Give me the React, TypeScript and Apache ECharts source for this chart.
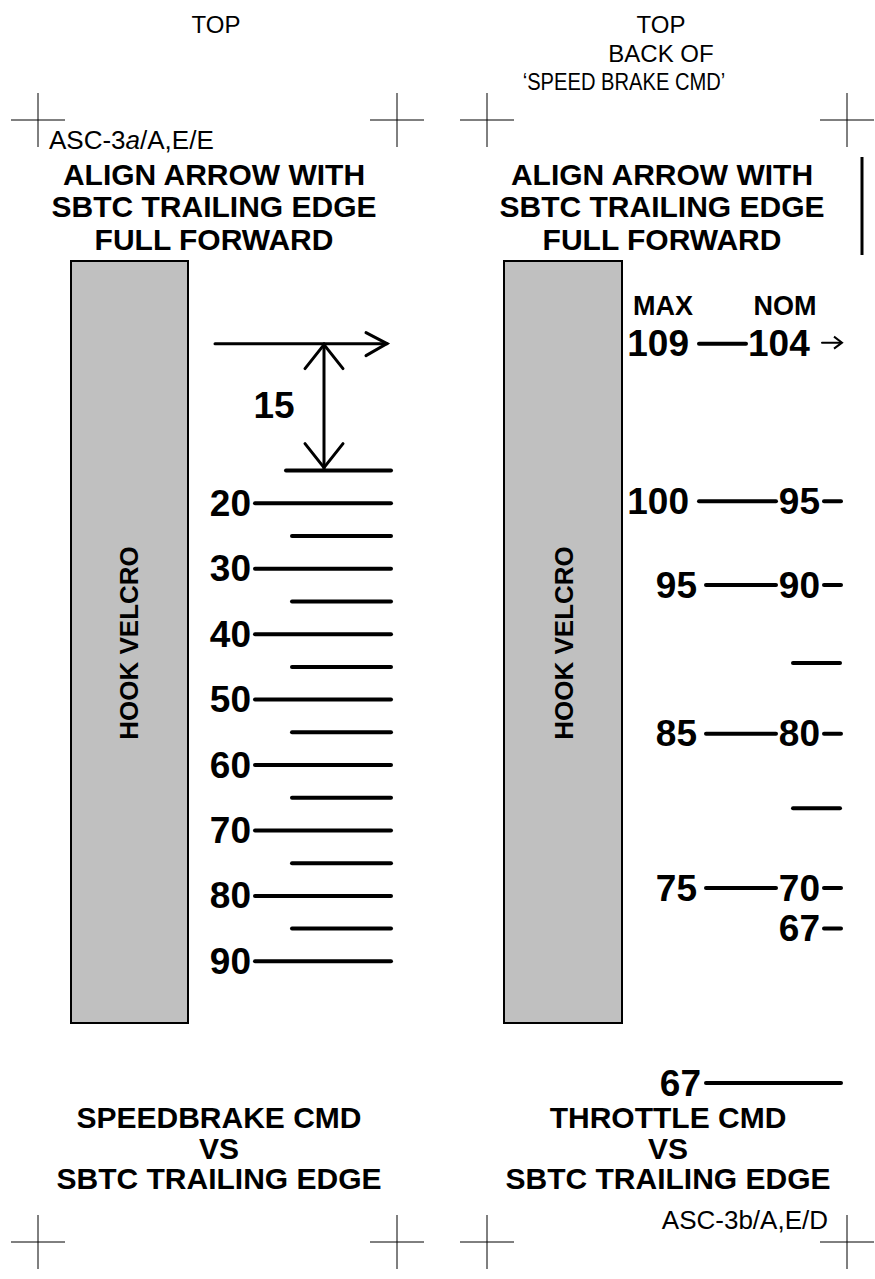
import React, { useEffect, useRef } from "react";
import * as echarts from "echarts";

// ---------- data ----------
// Speedbrake command scale (left card), read along the SBTC trailing edge
const sbMajorTicks = [20, 30, 40, 50, 60, 70, 80, 90];
const sbMinorTicks = [25, 35, 45, 55, 65, 75, 85];
const sbFullForwardLine = [15];
const alignArrowAt = [-4.4]; // speedbrake-scale reading of the alignment arrow
const alignOffsetLabel = "15";

// Throttle card: MAX / NOM throttle settings and where they fall on the SBTC scale
const throttleMax: (number | null)[] = [109, 100, 95, null, 85, null, 75, null];
const throttleNom: (number | null)[] = [104, 95, 90, null, 80, null, 70, 67];
const throttleAtSb = [-4.4, 19.7, 32.5, 44.4, 55.2, 66.6, 78.8, 85.0];
const throttleMinValue = [67];
const throttleMinAtSb = [108.6];

// ---------- styling ----------
const FF = '"Liberation Sans", Arial, Helvetica, sans-serif';
const BOLD37 = `bold 37px ${FF}`;
const BOLD30 = `bold 30px ${FF}`;
const REG = `24px ${FF}`;
const INK = "#000";

function seg(x1: number, y1: number, x2: number, y2: number, w = 4) {
  return {
    type: "line",
    shape: { x1, y1, x2, y2 },
    style: { stroke: INK, lineWidth: w, lineCap: "round" },
  };
}
function txt(x: number, y: number, text: string, align: string, font = BOLD37) {
  return {
    type: "text",
    style: { x, y, text, font, fill: INK, align, verticalAlign: "middle" },
  };
}

function crosshair(cx: number, cy: number) {
  return [
    { type: "line", shape: { x1: cx - 27, y1: cy, x2: cx + 27, y2: cy }, style: { stroke: INK, lineWidth: 1 } },
    { type: "line", shape: { x1: cx, y1: cy - 27, x2: cx, y2: cy + 27 }, style: { stroke: INK, lineWidth: 1 } },
  ];
}

function gtext(x: number, y: number, text: string, font: string, align = "center", extra: any = {}) {
  return { type: "text", x, y, ...extra, style: { text, font, fill: INK, align, verticalAlign: "middle" } };
}

export default function App() {
  const ref = useRef<HTMLDivElement>(null);
  useEffect(() => {
    if (!ref.current) return;
    const chart = echarts.init(ref.current, undefined, { renderer: "svg" });

    const yOf = (api: any, v: number) => api.coord([0, v])[1];

    const graphic: any[] = [
      // top captions
      gtext(216, 24, "TOP", REG),
      gtext(661, 24, "TOP", REG),
      gtext(661, 53, "BACK OF", REG),
      gtext(624, 82, "\u2018SPEED BRAKE CMD\u2019", REG, "center", { scaleX: 0.84 }),
      // crosshairs
      ...crosshair(38, 120), ...crosshair(397, 120), ...crosshair(487, 120), ...crosshair(847, 120),
      ...crosshair(38, 1242), ...crosshair(397, 1242), ...crosshair(487, 1242), ...crosshair(847, 1242),
      // document ids
      {
        type: "text", x: 49, y: 140,
        style: {
          text: "{n|ASC-3}{i|a}{n|/A,E/E}",
          verticalAlign: "middle", align: "left",
          rich: {
            n: { font: `26px ${FF}`, fill: INK },
            i: { font: `italic 26px ${FF}`, fill: INK },
          },
        },
      },
      gtext(828, 1220, "ASC-3b/A,E/D", `26px ${FF}`, "right"),
      // headings
      gtext(214, 174, "ALIGN ARROW WITH", BOLD30),
      gtext(214, 206, "SBTC TRAILING EDGE", BOLD30),
      gtext(214, 239, "FULL FORWARD", BOLD30),
      gtext(662, 174, "ALIGN ARROW WITH", BOLD30),
      gtext(662, 206, "SBTC TRAILING EDGE", BOLD30),
      gtext(662, 239, "FULL FORWARD", BOLD30),
      { type: "line", shape: { x1: 862, y1: 157, x2: 862, y2: 255 }, style: { stroke: INK, lineWidth: 3 } },
      // velcro strips
      { type: "rect", shape: { x: 71, y: 261, width: 117, height: 762 }, style: { fill: "#c0c0c0", stroke: INK, lineWidth: 2 } },
      { type: "rect", shape: { x: 504, y: 261, width: 118, height: 762 }, style: { fill: "#c0c0c0", stroke: INK, lineWidth: 2 } },
      { type: "text", x: 129, y: 643, rotation: Math.PI / 2, style: { text: "HOOK VELCRO", font: `bold 26px ${FF}`, fill: INK, align: "center", verticalAlign: "middle" } },
      { type: "text", x: 564, y: 643, rotation: Math.PI / 2, style: { text: "HOOK VELCRO", font: `bold 26px ${FF}`, fill: INK, align: "center", verticalAlign: "middle" } },
      // column headers
      gtext(663, 306, "MAX", `bold 27px ${FF}`),
      gtext(785, 306, "NOM", `bold 27px ${FF}`),
      // bottom titles
      gtext(219, 1117, "SPEEDBRAKE CMD", BOLD30),
      gtext(219, 1148, "VS", BOLD30),
      gtext(219, 1178, "SBTC TRAILING EDGE", BOLD30),
      gtext(668, 1117, "THROTTLE CMD", BOLD30),
      gtext(668, 1148, "VS", BOLD30),
      gtext(668, 1178, "SBTC TRAILING EDGE", BOLD30),
    ];

    const option: any = {
      animation: false,
      backgroundColor: "#fff",
      grid: { left: 0, right: 0, top: 307, bottom: 186.8, containLabel: false },
      xAxis: { type: "value", min: 0, max: 875, show: false },
      yAxis: { type: "value", min: -10, max: 110, inverse: true, show: false },
      graphic,
      series: [
        {
          name: "speedbrake major",
          type: "custom",
          clip: false,
          data: sbMajorTicks.map((v) => [0, v]),
          renderItem: (_p: any, api: any) => {
            const v = api.value(1);
            const y = yOf(api, v);
            return { type: "group", children: [seg(255, y, 391, y), txt(251, y, String(v), "right")] };
          },
        },
        {
          name: "speedbrake minor",
          type: "custom",
          clip: false,
          data: sbMinorTicks.map((v) => [0, v]),
          renderItem: (_p: any, api: any) => {
            const y = yOf(api, api.value(1));
            return seg(292, y, 391, y);
          },
        },
        {
          name: "full forward line",
          type: "custom",
          clip: false,
          data: sbFullForwardLine.map((v) => [0, v]),
          renderItem: (_p: any, api: any) => {
            const y = yOf(api, api.value(1));
            return seg(286, y, 391, y);
          },
        },
        {
          name: "align arrow",
          type: "custom",
          clip: false,
          data: alignArrowAt.map((v) => [0, v]),
          renderItem: (_p: any, api: any) => {
            const ya = yOf(api, api.value(1));
            const yl = yOf(api, sbFullForwardLine[0]);
            const w = 3;
            return {
              type: "group",
              children: [
                seg(215, ya, 387, ya, w),
                { type: "polyline", shape: { points: [[366, ya - 11], [387, ya], [366, ya + 12]] }, style: { stroke: INK, lineWidth: w, fill: "none", lineCap: "round", lineJoin: "miter" } },
                seg(324, ya, 324, yl, w),
                { type: "polyline", shape: { points: [[305, ya + 25], [324, ya + 1], [343, ya + 25]] }, style: { stroke: INK, lineWidth: w, fill: "none", lineCap: "round" } },
                { type: "polyline", shape: { points: [[305, yl - 27], [324, yl - 3], [343, yl - 27]] }, style: { stroke: INK, lineWidth: w, fill: "none", lineCap: "round" } },
                txt(274, (ya + yl) / 2 - 2, alignOffsetLabel, "center"),
              ],
            };
          },
        },
        {
          name: "throttle",
          type: "custom",
          clip: false,
          data: throttleAtSb.map((v) => [0, v]),
          renderItem: (p: any, api: any) => {
            const i = p.dataIndex;
            const y = yOf(api, api.value(1));
            const mx = throttleMax[i];
            const nm = throttleNom[i];
            const ch: any[] = [];
            if (mx != null) {
              const wide = mx >= 100;
              ch.push(txt(wide ? 689 : 697, y, String(mx), "right"));
              const x0 = wide ? 699 : 706;
              const x1 = nm != null && nm >= 100 ? 746 : 776;
              ch.push(seg(x0, y, x1, y));
            }
            if (nm != null) {
              if (nm >= 100) {
                ch.push(txt(748, y, String(nm), "left"));
                ch.push(seg(822, y - 1, 841, y - 1, 2));
                ch.push({ type: "polyline", shape: { points: [[834, y - 7], [842, y - 1], [834, y + 5]] }, style: { stroke: INK, lineWidth: 2, fill: "none" } });
              } else {
                ch.push(txt(820, y, String(nm), "right"));
                ch.push(seg(824, y, 841, y));
              }
            }
            if (mx == null && nm == null) {
              ch.push(seg(793, y, 840, y));
            }
            return { type: "group", children: ch };
          },
        },
        {
          name: "throttle minimum",
          type: "custom",
          clip: false,
          data: throttleMinAtSb.map((v) => [0, v]),
          renderItem: (p: any, api: any) => {
            const y = yOf(api, api.value(1));
            return {
              type: "group",
              children: [txt(701, y, String(throttleMinValue[p.dataIndex]), "right"), seg(706, y, 841, y)],
            };
          },
        },
      ],
    };
    chart.setOption(option);
    return () => chart.dispose();
  }, []);

  return (
    <div
      ref={ref}
      style={{ position: "fixed", left: 0, top: 0, width: 875, height: 1279, background: "#fff" }}
    />
  );
}
